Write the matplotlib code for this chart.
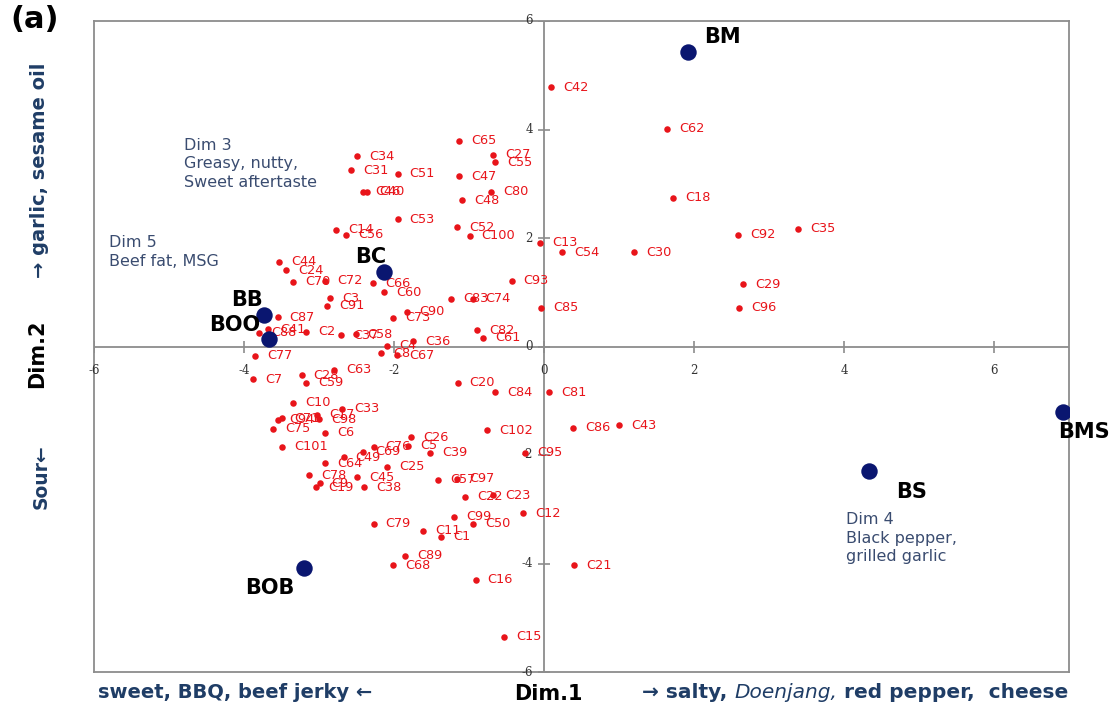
import matplotlib
matplotlib.use("Agg")
import matplotlib.pyplot as plt

# ---------------- data ----------------
prod_names = ["BM", "BC", "BB", "BOO", "BOB", "BS", "BMS"]
prod_x = [1.92, -2.13, -3.73, -3.67, -3.20, 4.33, 6.92]
prod_y = [5.43, 1.37, 0.58, 0.14, -4.08, -2.29, -1.21]

cons_names = ["C42", "C62", "C18", "C35", "C92", "C30", "C54", "C13", "C29", "C96",
              "C85", "C93", "C65", "C27", "C55", "C34", "C31", "C51", "C47", "C46",
              "C40", "C80", "C48", "C53", "C52", "C100", "C14", "C56", "C44", "C24",
              "C70", "C72", "C66", "C60", "C3", "C91", "C83", "C74", "C87", "C73",
              "C90", "C41", "C88", "C2", "C37", "C58", "C36", "C4", "C82", "C61",
              "C77", "C8", "C67", "C7", "C63", "C28", "C59", "C20", "C84", "C81",
              "C10", "C33", "C17", "C98", "C94", "C71", "C75", "C6", "C101", "C26",
              "C76", "C69", "C49", "C5", "C39", "C102", "C95", "C64", "C25", "C78",
              "C19", "C9", "C45", "C38", "C57", "C97", "C22", "C23", "C12", "C79",
              "C11", "C1", "C99", "C50", "C89", "C68", "C16", "C15", "C21", "C86",
              "C43"]
cons_x = [0.09, 1.64, 1.72, 3.39, 2.59, 1.20, 0.24, -0.05, 2.65, 2.60,
          -0.04, -0.43, -1.13, -0.68, -0.65, -2.49, -2.57, -1.95, -1.13, -2.41,
          -2.36, -0.71, -1.09, -1.95, -1.16, -0.99, -2.77, -2.64, -3.53, -3.44,
          -3.35, -2.92, -2.28, -2.13, -2.85, -2.89, -1.24, -0.95, -3.55, -2.01,
          -1.83, -3.68, -3.80, -3.17, -2.71, -2.51, -1.75, -2.09, -0.89, -0.81,
          -3.85, -2.17, -1.96, -3.88, -2.80, -3.23, -3.17, -1.15, -0.65, 0.07,
          -3.35, -2.69, -3.03, -3.00, -3.55, -3.49, -3.61, -2.92, -3.49, -1.77,
          -2.27, -2.41, -2.67, -1.81, -1.52, -0.76, -0.25, -2.92, -2.09, -3.13,
          -3.04, -2.99, -2.49, -2.40, -1.41, -1.16, -1.05, -0.68, -0.28, -2.27,
          -1.61, -1.37, -1.20, -0.95, -1.85, -2.01, -0.91, -0.53, 0.40, 0.39,
          1.00]
cons_y = [4.78, 4.01, 2.74, 2.17, 2.06, 1.74, 1.74, 1.91, 1.15, 0.71,
          0.71, 1.21, 3.79, 3.53, 3.40, 3.51, 3.25, 3.18, 3.14, 2.85,
          2.85, 2.85, 2.70, 2.35, 2.20, 2.04, 2.15, 2.06, 1.56, 1.41,
          1.19, 1.21, 1.17, 1.00, 0.89, 0.75, 0.88, 0.88, 0.54, 0.53,
          0.64, 0.32, 0.25, 0.27, 0.21, 0.23, 0.10, 0.01, 0.30, 0.16,
          -0.17, -0.12, -0.16, -0.60, -0.43, -0.53, -0.67, -0.67, -0.84, -0.84,
          -1.04, -1.15, -1.26, -1.34, -1.35, -1.32, -1.52, -1.59, -1.85, -1.67,
          -1.85, -1.94, -2.04, -1.83, -1.96, -1.54, -1.96, -2.15, -2.22, -2.37,
          -2.59, -2.52, -2.41, -2.59, -2.46, -2.44, -2.77, -2.74, -3.07, -3.27,
          -3.40, -3.51, -3.14, -3.27, -3.86, -4.03, -4.30, -5.35, -4.03, -1.50,
          -1.45]

tick_vals = [-6, -4, -2, 0, 2, 4, 6]
x_limits = (-6, 7)
y_limits = (-6, 6)

# ---------------- styling ----------------
GRAY = "#8c8c8c"
RED = "#e8141a"
NAVY = "#0a1670"
TXT_BLUE = "#1f3d66"
DIM_TXT = "#3a4c70"
SIDE_FS = 13.5
RIGHT_FS = 14.5

fig = plt.figure(figsize=(11.15, 7.13), dpi=100)
ax = fig.add_axes([94 / 1115, 41 / 713, 975 / 1115, 651 / 713])
ax.set_xlim(*x_limits)
ax.set_ylim(*y_limits)
for s in ax.spines.values():
    s.set_color(GRAY)
    s.set_linewidth(1.3)
ax.set_xticks([])
ax.set_yticks([])

# axes through the origin
ax.axhline(0, color=GRAY, lw=1.3, zorder=1)
ax.axvline(0, color=GRAY, lw=1.3, zorder=1)
ax.plot(tick_vals, [0] * len(tick_vals), ls="none", marker="|", ms=9, mew=1.2,
        color=GRAY, zorder=1)
ax.plot([0] * len(tick_vals), tick_vals, ls="none", marker="_", ms=9, mew=1.2,
        color=GRAY, zorder=1)
for t in tick_vals:
    ax.annotate(str(t), (t, 0), xytext=(0, -24), textcoords="offset pixels",
                ha="center", va="center", fontsize=8.5, family="DejaVu Serif",
                color="#333333", annotation_clip=False)
    ax.annotate(str(t), (0, t), xytext=(-11, 0), textcoords="offset pixels",
                ha="right", va="center", fontsize=8.5, family="DejaVu Serif",
                color="#333333", annotation_clip=False)

# consumers
ax.scatter(cons_x, cons_y, s=22, color=RED, zorder=3, linewidths=0)
for n, x, y in zip(cons_names, cons_x, cons_y):
    ax.annotate(n, (x, y), xytext=(12, 0), textcoords="offset pixels",
                ha="left", va="center", fontsize=9.3, color=RED, zorder=3)

# products
ax.scatter(prod_x, prod_y, s=140, color=NAVY, zorder=4, linewidths=0)
prod_offsets = {"BM": (34, 15), "BC": (-14, 15), "BB": (-17, 15), "BOO": (-34, 14),
                "BOB": (-34, -20), "BS": (43, -21), "BMS": (21, -20)}
for n, x, y in zip(prod_names, prod_x, prod_y):
    ax.annotate(n, (x, y), xytext=prod_offsets[n], textcoords="offset pixels",
                ha="center", va="center", fontsize=15, fontweight="bold",
                color="black", zorder=5, annotation_clip=False)

# dimension notes
ax.text(-4.8, 3.85, "Dim 3\nGreasy, nutty,\nSweet aftertaste", ha="left", va="top",
        fontsize=11.5, color=DIM_TXT, linespacing=1.3)
ax.text(-5.8, 2.05, "Dim 5\nBeef fat, MSG", ha="left", va="top",
        fontsize=11.5, color=DIM_TXT, linespacing=1.3)
ax.text(4.03, -3.05, "Dim 4\nBlack pepper,\ngrilled garlic", ha="left", va="top",
        fontsize=11.5, color=DIM_TXT, linespacing=1.3)

# outer labels
fig.text(10 / 1115, 1 - 20 / 713, "(a)", fontsize=22, fontweight="bold",
         ha="left", va="center")
fig.text(40 / 1115, 1 - 170 / 713, "\u2192 garlic, sesame oil", rotation=90,
         ha="center", va="center", fontsize=SIDE_FS + 0.5, fontweight="bold",
         color=TXT_BLUE)
fig.text(37 / 1115, 1 - 354 / 713, "Dim.2", rotation=90, ha="center", va="center",
         fontsize=15, fontweight="bold", color="black")
fig.text(41 / 1115, 1 - 477 / 713, "Sour\u2190", rotation=90, ha="center",
         va="center", fontsize=SIDE_FS, fontweight="bold", color=TXT_BLUE)
fig.text(98 / 1115, 1 - 692 / 713, "sweet, BBQ, beef jerky \u2190", ha="left",
         va="center", fontsize=SIDE_FS + 0.5, fontweight="bold", color=TXT_BLUE)
fig.text(548 / 1115, 1 - 694 / 713, "Dim.1", ha="center", va="center",
         fontsize=15, fontweight="bold", color="black")

t1 = fig.text(642 / 1115, 1 - 692 / 713, "\u2192 salty, ", ha="left", va="center",
              fontsize=RIGHT_FS, fontweight="bold", color=TXT_BLUE)
t2 = ax.annotate("Doenjang,", xy=(1, 0), xycoords=t1, ha="left", va="bottom",
                 fontsize=RIGHT_FS, fontstyle="italic", color=TXT_BLUE)
t3 = ax.annotate(" red pepper,  cheese", xy=(1, 0), xycoords=t2, ha="left",
                 va="bottom", fontsize=RIGHT_FS, fontweight="bold", color=TXT_BLUE)

fig.savefig("out.png", dpi=100)
